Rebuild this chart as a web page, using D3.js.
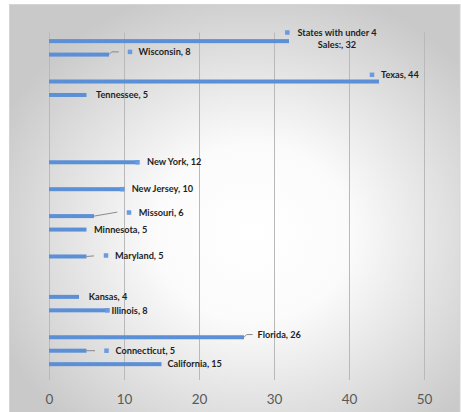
<!DOCTYPE html>
<html><head><meta charset="utf-8">
<script src="https://cdn.jsdelivr.net/npm/d3@7/dist/d3.min.js"></script>
<style>body{margin:0;background:#fff}svg{display:block}</style>
</head><body><svg id="c" width="461" height="412"></svg>
<script>
// ---- data ----
const categories = ["California","Connecticut","Florida","","Illinois","Kansas","","","Maryland","","Minnesota","Missouri","","New Jersey","","New York","","","","","Tennessee","Texas","","Wisconsin","States with under 4 Sales:"];
const values = [15,5,26,null,8,4,null,null,5,null,5,6,null,10,null,12,null,null,null,null,5,44,null,8,32];
const xTicks = [0,10,20,30,40,50];

// ---- layout for labels (pixel offsets from bar end) ----
const labelLayout = {
  "California": {tx:6, ty:0},
  "Connecticut": {tx:29, ty:0, sq:[20,0], lead:[[0,0],[8.5,0]]},
  "Florida": {tx:13.5, ty:-2.7, lead:[[0,0],[2.7,-2.7],[8.7,-2.7]]},
  "Illinois": {tx:2.5, ty:0, sq:[-1.5,0]},
  "Kansas": {tx:9.7, ty:0},
  "Maryland": {tx:28.5, ty:-0.8, sq:[19.5,-1], lead:[[0,0],[7.5,-0.6]]},
  "Minnesota": {tx:7.5, ty:0},
  "Missouri": {tx:44.7, ty:-3.6, sq:[35,-3.6], lead:[[0,0],[23.3,-4]]},
  "New Jersey": {tx:7.7, ty:0, sq:[-1.5,0]},
  "New York": {tx:8, ty:0, sq:[-1.5,0]},
  "Tennessee": {tx:9.5, ty:0},
  "Texas": {tx:2, ty:-6.7, sq:[-7,-6.7]},
  "Wisconsin": {tx:29.5, ty:-2.5, sq:[21,-2.7], lead:[[0,0],[2.7,-2.7],[9.7,-2.7]]},
  "States with under 4 Sales:": {tx:48, ty:-8.5, sq:[-1.7,-8.6], multi:["States with under 4","Sales:, 32"]}
};

const svg = d3.select("#c");
const defs = svg.append("defs");
const grad = defs.append("radialGradient").attr("id","bg")
  .attr("cx","54%").attr("cy","56%").attr("r","62%");
grad.append("stop").attr("offset","0%").attr("stop-color","#ffffff");
grad.append("stop").attr("offset","35%").attr("stop-color","#fbfbfb");
grad.append("stop").attr("offset","100%").attr("stop-color","#c9c9c9");

svg.append("rect").attr("x",9.5).attr("y",4.5).attr("width",450.5).attr("height",408)
  .attr("fill","url(#bg)").attr("stroke","#d4d4d4").attr("stroke-width",1);

const x = d3.scaleLinear().domain([0,50]).range([49,424]);
const idx = d3.range(categories.length);
const y = d3.scaleBand().domain(idx).range([370.9,34.4]);
const cy = i => y(i) + y.bandwidth()/2;

// grid
svg.append("g").selectAll("line").data(xTicks).join("line")
  .attr("x1",d=>Math.round(x(d))+0.5).attr("x2",d=>Math.round(x(d))+0.5)
  .attr("y1",32.5).attr("y2",380)
  .attr("stroke","#b9b9b9").attr("stroke-width",1);

// axis labels
const xAxis = d3.axisBottom(x).tickValues(xTicks).tickSize(0).tickPadding(0);
const ax = svg.append("g").attr("transform","translate(0,394.5)").call(xAxis);
ax.select(".domain").remove();
ax.selectAll("text").attr("font-family","Lato, Carlito, sans-serif").attr("font-size",13.5)
  .attr("fill","#595959");

const data = idx.map(i=>({i, name:categories[i], v:values[i]})).filter(d=>d.v!=null);

// bars
svg.append("g").selectAll("rect").data(data).join("rect")
  .attr("x",x(0)).attr("y",d=>cy(d.i)-2).attr("width",d=>x(d.v)-x(0)).attr("height",4)
  .attr("fill","#5b8fd6");

// labels
const lg = svg.append("g").attr("font-family","Lato, Carlito, sans-serif").attr("font-weight","bold")
  .attr("font-size",9.2).attr("fill","#1f1f1f");
data.forEach(d=>{
  const L = labelLayout[d.name]; if(!L) return;
  const bx = x(d.v), by = cy(d.i);
  if(L.lead){
    lg.append("path").attr("d", d3.line()(L.lead.map(p=>[bx+p[0],by+p[1]])))
      .attr("fill","none").attr("stroke","#7f7f7f").attr("stroke-width",0.9);
  }
  if(L.sq){
    lg.append("rect").attr("x",bx+L.sq[0]-2.25).attr("y",by+L.sq[1]-2.25).attr("width",4.5).attr("height",4.5)
      .attr("fill","#6a9be0");
  }
  if(L.multi){
    const t = lg.append("text").attr("text-anchor","middle");
    t.append("tspan").attr("x",bx+L.tx).attr("y",by+L.ty+3.2).text(L.multi[0]);
    t.append("tspan").attr("x",bx+L.tx).attr("y",by+L.ty+15.2).text(L.multi[1]);
  } else {
    lg.append("text").attr("x",bx+L.tx).attr("y",by+L.ty+3.2).text(d.name+", "+d.v);
  }
});
</script></body></html>
